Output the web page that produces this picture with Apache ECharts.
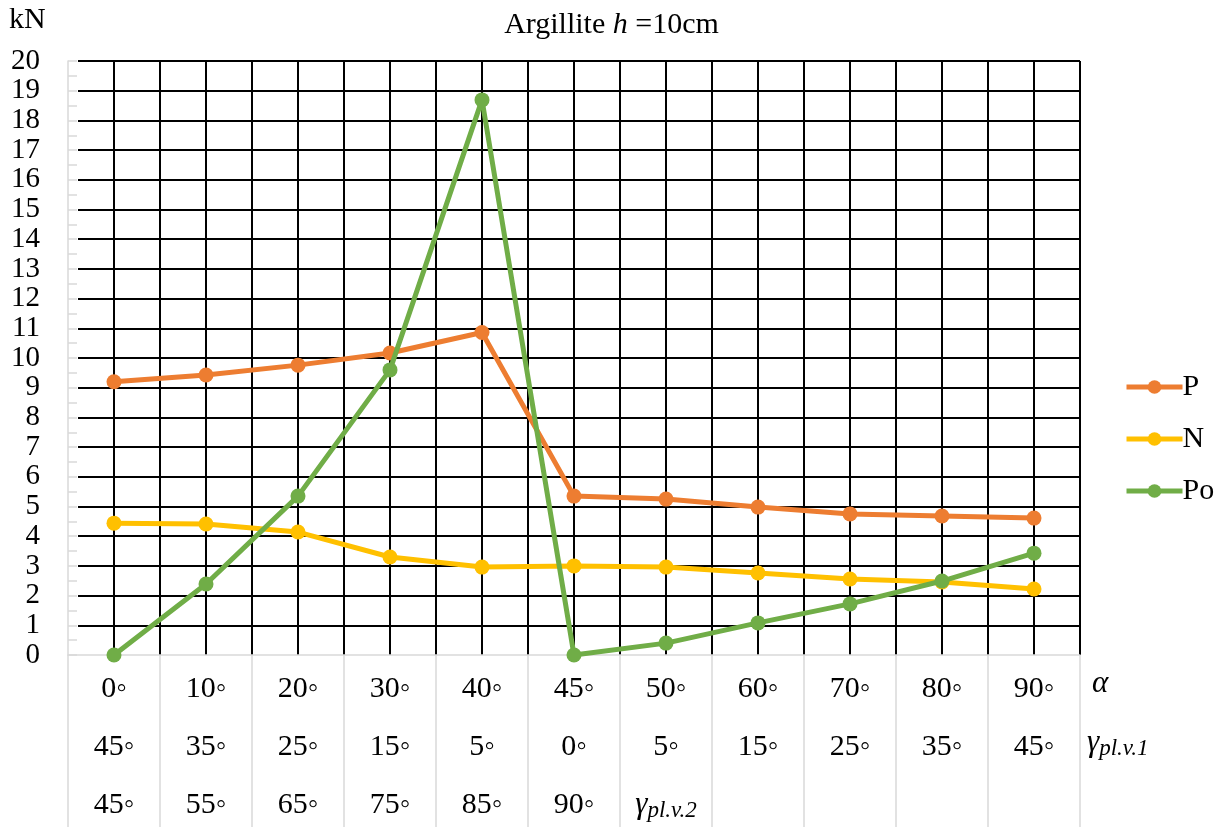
<!DOCTYPE html>
<html>
<head>
<meta charset="utf-8">
<script src="https://cdn.jsdelivr.net/npm/echarts@6/dist/echarts.min.js"></script>
<style>html,body{margin:0;padding:0;background:#fff}#c{width:1223px;height:827px}</style>
</head>
<body>
<div id="c"></div>
<script>
const alphaLabels = ['0◦','10◦','20◦','30◦','40◦','45◦','50◦','60◦','70◦','80◦','90◦'];
const gamma1Labels = ['45◦','35◦','25◦','15◦','5◦','0◦','5◦','15◦','25◦','35◦','45◦'];
const gamma2Labels = ['45◦','55◦','65◦','75◦','85◦','90◦','γ|pl.v.2','','','',''];
const seriesNames = ['P','N','Po'];
const valuesP = [9.2, 9.43, 9.76, 10.17, 10.86, 5.35, 5.25, 4.98, 4.75, 4.68, 4.61];
const valuesN = [4.44, 4.41, 4.14, 3.3, 2.96, 3.0, 2.96, 2.76, 2.56, 2.46, 2.22];
const valuesPo = [0, 2.39, 5.35, 9.6, 18.69, 0, 0.4, 1.08, 1.72, 2.49, 3.43];
const yTicks = {min: 0, max: 20, interval: 1};
const colors = ['#ED7D31', '#FFC000', '#70AD47'];

const serif = 'Liberation Serif, Times New Roman, serif';
const chart = echarts.init(document.getElementById('c'));

function catLabel(v, i) {
  const g2 = gamma2Labels[i];
  let third;
  if (g2.indexOf('|') >= 0) {
    const parts = g2.split('|');
    third = '{g|' + parts[0] + '}{s|' + parts[1] + '}';
  } else {
    third = '{n|' + (g2 === '' ? ' ' : g2) + '}';
  }
  return '{n|' + alphaLabels[i] + '}\n{n|' + gamma1Labels[i] + '}\n' + third;
}

const allVals = [valuesP, valuesN, valuesPo];

chart.setOption({
  backgroundColor: '#fff',
  animation: false,
  title: {
    text: '{a|Argillite }{i|h}{a| =10cm}',
    left: 'center',
    top: 5,
    textStyle: {
      fontWeight: 'normal',
      rich: {
        a: {fontFamily: serif, fontSize: 30, fontWeight: 'normal', color: '#000'},
        i: {fontFamily: serif, fontSize: 30, fontWeight: 'normal', fontStyle: 'italic', color: '#000'}
      }
    }
  },
  legend: {
    orient: 'vertical',
    left: 1119,
    top: 367,
    itemWidth: 56,
    itemHeight: 17,
    itemGap: 22,
    data: seriesNames,
    lineStyle: {width: 5},
    textStyle: {fontFamily: serif, fontSize: 30, color: '#000', padding: [0, 0, 0, -5]}
  },
  graphic: [
    {type: 'text', left: 9, top: 5, style: {text: 'kN', font: '30px ' + serif, fill: '#000'}},
    {type: 'text', left: 1092, top: 668, style: {text: 'α', font: 'italic 31px ' + serif, fill: '#000'}},
    {type: 'text', left: 1087, top: 727, style: {
      text: '{g|γ}{s|pl.v.1}',
      rich: {
        g: {fontFamily: serif, fontSize: 31, fontStyle: 'italic', color: '#000'},
        s: {fontFamily: serif, fontSize: 23, fontStyle: 'italic', color: '#000', padding: [12, 0, 0, 0]}
      }
    }}
  ],
  grid: [
    {left: 68, right: 143, top: 61, bottom: 172},
    {left: 78, right: 143, top: 61, bottom: 172}
  ],
  xAxis: [
    {
      type: 'category', gridIndex: 0, boundaryGap: true,
      data: alphaLabels,
      axisLine: {show: true, onZero: false, lineStyle: {color: '#d9d9d9', width: 1.5}},
      axisTick: {show: true, length: 175, lineStyle: {color: '#d9d9d9', width: 1.5}},
      splitLine: {show: false},
      axisLabel: {
        interval: 0, margin: 5,
        formatter: catLabel,
        rich: {
          n: {fontFamily: serif, fontSize: 30, color: '#000', lineHeight: 58},
          g: {fontFamily: serif, fontSize: 31, fontStyle: 'italic', color: '#000', lineHeight: 58},
          s: {fontFamily: serif, fontSize: 23, fontStyle: 'italic', color: '#000', lineHeight: 58, padding: [12, 0, 0, 0]}
        }
      }
    },
    {
      type: 'value', gridIndex: 0, min: -0.5, max: 10.5, interval: 0.5,
      axisLine: {show: false}, axisTick: {show: false}, axisLabel: {show: false},
      splitLine: {show: true, showMinLine: false, lineStyle: {color: '#000', width: 2}}
    },
    {
      type: 'value', gridIndex: 1, min: 0, max: 1,
      axisLine: {show: false}, axisTick: {show: false}, axisLabel: {show: false},
      splitLine: {show: false}
    }
  ],
  yAxis: [
    {
      type: 'value', gridIndex: 0, min: yTicks.min, max: yTicks.max, interval: yTicks.interval,
      axisLine: {show: true, onZero: false, lineStyle: {color: '#d9d9d9', width: 1.5}},
      axisTick: {show: true, inside: true, length: 9, lineStyle: {color: '#d9d9d9', width: 1.5}},
      minorTick: {show: true, splitNumber: 2, length: 9, lineStyle: {color: '#d9d9d9', width: 1.5}},
      splitLine: {show: false},
      axisLabel: {margin: 28, fontFamily: serif, fontSize: 29, lineHeight: 22, color: '#000',
        showMinLabel: true, showMaxLabel: true, hideOverlap: false}
    },
    {
      type: 'value', gridIndex: 1, min: yTicks.min, max: yTicks.max, interval: yTicks.interval,
      axisLine: {show: false}, axisTick: {show: false}, axisLabel: {show: false},
      splitLine: {show: true, showMinLine: false, lineStyle: {color: '#000', width: 2}}
    }
  ],
  series: seriesNames.map((name, k) => ({
    name: name,
    type: 'line',
    xAxisIndex: 0, yAxisIndex: 0,
    data: allVals[k],
    symbol: 'circle',
    symbolSize: 15,
    color: colors[k],
    itemStyle: {color: colors[k]},
    lineStyle: {color: colors[k], width: 5},
    z: 5 + k
  }))
});
</script>
</body>
</html>
